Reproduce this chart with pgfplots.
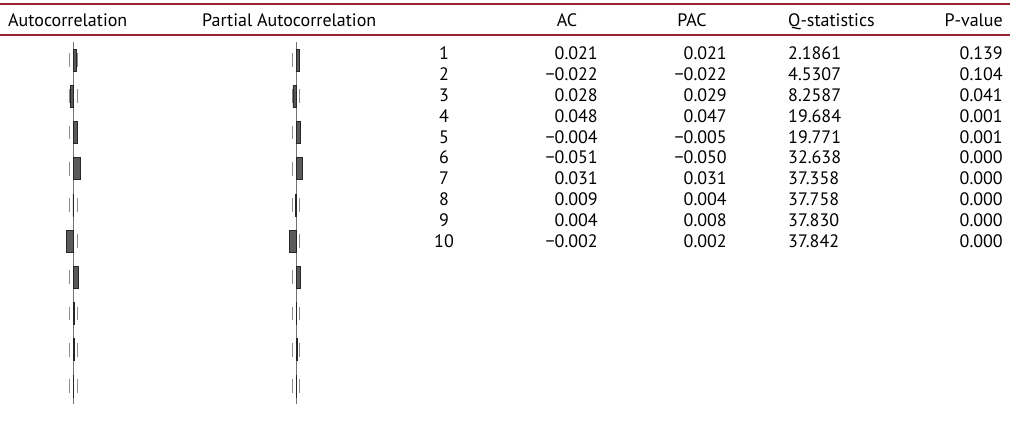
\documentclass[border=0pt]{standalone}
\usepackage{fontspec}
\setmainfont{PT Sans}
\usepackage{pgfplots}
\usepackage{pgfplotstable}
\pgfplotsset{compat=1.18}

\definecolor{rulered}{RGB}{155,35,50}
\definecolor{barfill}{RGB}{90,90,90}
\definecolor{bandgray}{RGB}{140,140,140}
\definecolor{zerogray}{RGB}{115,115,115}

% lag, autocorrelation, partial autocorrelation, 95% band limits
\pgfplotstableread{
lag ac pac lo hi
1 0.021 0.021 -0.027 0.027
2 -0.022 -0.022 -0.027 0.027
3 0.028 0.029 -0.027 0.027
4 0.048 0.047 -0.027 0.027
5 -0.004 -0.005 -0.027 0.027
6 -0.051 -0.050 -0.027 0.027
7 0.031 0.031 -0.027 0.027
8 0.009 0.004 -0.027 0.027
9 0.004 0.008 -0.027 0.027
10 -0.002 0.002 -0.027 0.027
}\acftable

\begin{document}
\begin{tikzpicture}[
  txt/.style={font=\fontsize{18}{21}\selectfont, inner sep=0pt}]
\useasboundingbox (0pt,0pt) rectangle (1010pt,-427pt);

\pgfplotsset{
  corr/.style={scale only axis, width=40pt, height=362pt,
    xmin=-0.143, xmax=0.143, ymin=0.5, ymax=10.5, y dir=reverse,
    axis lines=none, clip=false, anchor=north},
  zeroline/.style={zerogray, line width=1pt, mark=none},
  band/.style={draw=none, mark=none,
    error bars/.cd, y dir=both, y fixed=0.19, error mark=none,
    error bar style={draw=bandgray, line width=1.3pt}},
  corrbar/.style={xbar, bar width=22pt, fill=barfill, draw=black!85, line width=0.6pt}
}

% header rules
\draw[rulered, line width=2pt] (0pt,-4pt) -- (1010pt,-4pt);
\draw[rulered, line width=2pt] (0pt,-35pt) -- (1010pt,-35pt);

% column headers
\node[txt, anchor=base west] at (8pt,-27pt) {Autocorrelation};
\node[txt, anchor=base west] at (202pt,-27pt) {Partial Autocorrelation};
\node[txt, anchor=base] at (567pt,-27pt) {AC};
\node[txt, anchor=base] at (692pt,-27pt) {PAC};
\node[txt, anchor=base west] at (788pt,-27pt) {Q-statistics};
\node[txt, anchor=base east] at (1003pt,-27pt) {P-value};

% autocorrelation correlogram
\begin{axis}[corr, at={(73.5pt,-42pt)}]
  \addplot[zeroline] coordinates {(0,0.5) (0,10.5)};
  \addplot[band] table[x=lo, y=lag] {\acftable};
  \addplot[band] table[x=hi, y=lag] {\acftable};
  \addplot[corrbar] table[x=ac, y=lag] {\acftable};
\end{axis}

% partial autocorrelation correlogram
\begin{axis}[corr, at={(296pt,-42pt)}]
  \addplot[zeroline] coordinates {(0,0.5) (0,10.5)};
  \addplot[band] table[x=lo, y=lag] {\acftable};
  \addplot[band] table[x=hi, y=lag] {\acftable};
  \addplot[corrbar] table[x=pac, y=lag] {\acftable};
\end{axis}

% statistics table
\foreach \r/\a/\p/\q/\v [count=\i] in {
  1/0.021/0.021/2.1861/0.139,
  2/−0.022/−0.022/4.5307/0.104,
  3/0.028/0.029/8.2587/0.041,
  4/0.048/0.047/19.684/0.001,
  5/−0.004/−0.005/19.771/0.001,
  6/−0.051/−0.050/32.638/0.000,
  7/0.031/0.031/37.358/0.000,
  8/0.009/0.004/37.758/0.000,
  9/0.004/0.008/37.830/0.000,
  10/−0.002/0.002/37.842/0.000}{
  \pgfmathsetmacro\yb{-60-20.8*(\i-1)}
  \node[txt, anchor=base] at (444pt,\yb pt) {\r};
  \node[txt, anchor=base east] at (598pt,\yb pt) {\a};
  \node[txt, anchor=base east] at (727pt,\yb pt) {\p};
  \node[txt, anchor=base west] at (788pt,\yb pt) {\q};
  \node[txt, anchor=base east] at (1003pt,\yb pt) {\v};
}
\end{tikzpicture}
\end{document}
